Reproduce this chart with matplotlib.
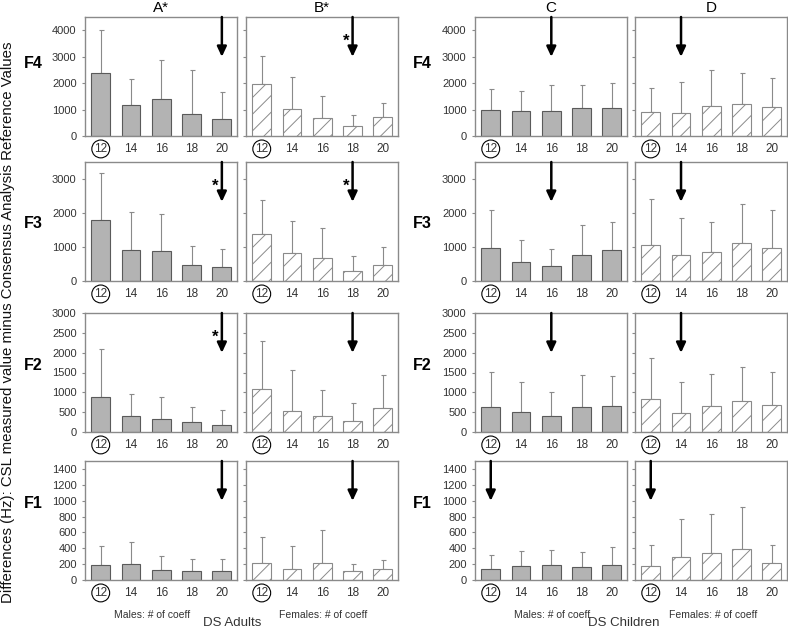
import matplotlib.pyplot as plt
import numpy as np

plt.rcParams['font.family'] = ['Liberation Sans', 'DejaVu Sans']
plt.rcParams['hatch.linewidth'] = 0.7

coeffs = ['12', '14', '16', '18', '20']
groups = ['A*', 'B*', 'C', 'D']
formants = ['F4', 'F3', 'F2', 'F1']

# mean differences per group (A, B, C, D) and upper end of the error bar
f4_mean = [[2370, 1155, 1405, 850, 640], [1955, 1015, 677, 376, 715],
           [980, 940, 930, 1040, 1060], [900, 870, 1150, 1220, 1080]]
f4_top = [[4025, 2145, 2870, 2495, 1670], [3035, 2245, 1530, 777, 1266],
          [1790, 1690, 1930, 1930, 2010], [1800, 2030, 2480, 2390, 2180]]
f3_mean = [[1780, 909, 870, 479, 400], [1378, 821, 674, 293, 479],
           [978, 567, 440, 762, 909], [1056, 772, 840, 1114, 968]]
f3_top = [[3177, 2043, 1975, 1026, 948], [2395, 1750, 1554, 733, 1007],
          [2100, 1212, 948, 1642, 1740], [2405, 1857, 1740, 2268, 2082]]
f2_mean = [[887, 405, 338, 253, 177], [1073, 541, 397, 279, 608],
           [633, 515, 405, 633, 667], [820, 490, 667, 769, 693]]
f2_top = [[2086, 963, 870, 625, 549], [2289, 1562, 1056, 726, 1427],
          [1512, 1258, 1010, 1427, 1419], [1867, 1258, 1461, 1630, 1503]]
f1_mean = [[184, 196, 125, 113, 109], [213, 138, 209, 117, 142],
           [142, 175, 188, 163, 188], [175, 292, 338, 392, 213]]
f1_top = [[426, 480, 301, 271, 263], [543, 426, 635, 205, 251],
          [313, 367, 384, 351, 413], [447, 764, 831, 923, 443]]

# index of the chosen number of coefficients (arrow) and significance star
arrow_idx = [[4, 3, 2, 1], [4, 3, 2, 1], [4, 3, 2, 1], [4, 3, 0, 0]]
star = [[False, True, False, False], [True, True, False, False],
        [True, False, False, False], [False, False, False, False]]

means = [f4_mean, f3_mean, f2_mean, f1_mean]
tops = [f4_top, f3_top, f2_top, f1_top]
ylims = [4500, 3500, 3000, 1500]
yticks = [np.arange(0, 4001, 1000), np.arange(0, 3001, 1000),
          np.arange(0, 3001, 500), np.arange(0, 1401, 200)]

W, H = 788, 629
fig = plt.figure(figsize=(W / 100, H / 100), dpi=100)

col_left = [85, 246, 475, 635]
row_top = [17, 162, 313, 461]
pw, ph = 152, 119
gray = '#8a8a8a'
txt = '#333333'
x = np.arange(5)

for r in range(4):
    for c in range(4):
        ax = fig.add_axes([col_left[c] / W, 1 - (row_top[r] + ph) / H, pw / W, ph / H])
        m = np.array(means[r][c])
        t = np.array(tops[r][c])
        if c % 2 == 0:
            ax.bar(x, m, width=0.62, color='#b3b3b3', edgecolor='#5a5a5a', lw=0.8, zorder=2)
        else:
            ax.bar(x, m, width=0.62, color='white', edgecolor=gray, hatch='//', lw=0.8, zorder=2)
        ax.errorbar(x, m, yerr=[np.zeros(5), t - m], fmt='none', ecolor=gray,
                    elinewidth=0.8, capsize=1.8, capthick=0.8, zorder=1)
        ax.set_xlim(-0.52, 4.5)
        ax.set_ylim(0, ylims[r])
        ax.set_yticks(yticks[r])
        ax.set_xticks(x)
        ax.set_xticklabels(coeffs)
        ax.tick_params(axis='x', length=0, pad=5, labelsize=8.5, labelcolor=txt)
        ax.tick_params(axis='y', length=2.5, pad=3.5, labelsize=8, labelcolor=txt,
                       color=gray, width=0.8)
        if c % 2 == 1:
            ax.set_yticklabels([])
        ax.get_xticklabels()[0].set_bbox(dict(boxstyle='circle,pad=0.2', fc='none',
                                              ec='black', lw=0.8))
        for s in ax.spines.values():
            s.set_color(gray)
            s.set_linewidth(1)

        k = arrow_idx[r][c]
        ax.annotate('', xy=(k, 0.665), xycoords=('data', 'axes fraction'),
                    xytext=(k, 1.0), textcoords=('data', 'axes fraction'),
                    arrowprops=dict(arrowstyle='-|>,head_length=0.6,head_width=0.28',
                                    color='black', lw=1.8, mutation_scale=10,
                                    shrinkA=0, shrinkB=0), zorder=5)
        if star[r][c]:
            ax.text(k - 0.22, 0.80, '*', transform=ax.get_xaxis_transform(),
                    ha='center', va='center', fontsize=12, fontweight='bold')

        if r == 0:
            fig.text((col_left[c] + pw / 2) / W, 1 - 8 / H, groups[c], ha='center',
                     va='center', fontsize=11)

# row labels
row_label_y = [63, 223, 366, 504]
for r in range(4):
    for xp in [33, 422]:
        fig.text(xp / W, 1 - row_label_y[r] / H, formants[r], ha='center', va='center',
                 fontsize=11.5, fontweight='bold')

fig.text(8 / W, 1 - 322 / H,
         'Differences (Hz): CSL measured value minus Consensus Analysis Reference Values',
         rotation=90, ha='center', va='center', fontsize=10.8, color='#111111')

fig.text(152 / W, 1 - 615 / H, 'Males: # of coeff', ha='center', va='center', fontsize=7.5, color=txt)
fig.text(323 / W, 1 - 615 / H, 'Females: # of coeff', ha='center', va='center', fontsize=7.5, color=txt)
fig.text(232 / W, 1 - 623 / H, 'DS Adults', ha='center', va='center', fontsize=9.5, color=txt)
fig.text(552 / W, 1 - 615 / H, 'Males: # of coeff', ha='center', va='center', fontsize=7.5, color=txt)
fig.text(713 / W, 1 - 615 / H, 'Females: # of coeff', ha='center', va='center', fontsize=7.5, color=txt)
fig.text(624 / W, 1 - 623 / H, 'DS Children', ha='center', va='center', fontsize=9.5, color=txt)

fig.savefig('out.png', dpi=100)
